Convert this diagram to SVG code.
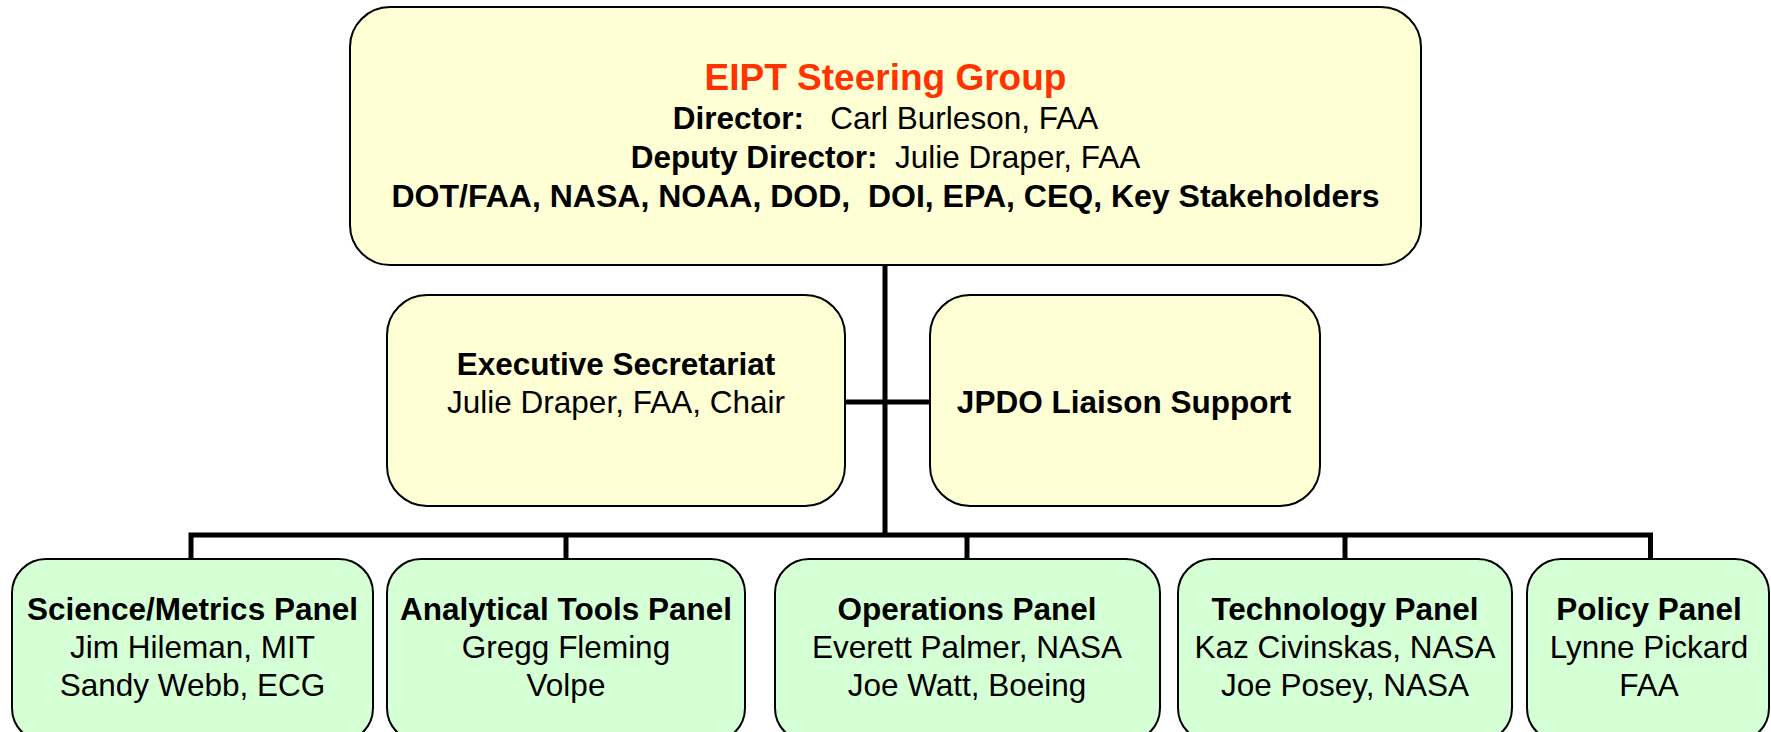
<svg xmlns="http://www.w3.org/2000/svg" width="1771" height="732" viewBox="0 0 1771 732">
<style>
.yl{fill:#FFFFD5;stroke:#000;stroke-width:2}
.gr{fill:#D5FFD5;stroke:#000;stroke-width:2}
.ln{fill:none;stroke:#000;stroke-width:5;stroke-linejoin:miter;stroke-linecap:butt}
text{font-family:"Liberation Sans",Arial,sans-serif;font-size:31.5px;fill:#000;text-anchor:middle}
.b{font-weight:bold}
.t{font-weight:bold;font-size:37px;fill:#FF3300}
</style>
<rect width="1771" height="732" fill="#fff"/>
<g id="connectors">
<path class="ln" d="M885,265 V536"/>
<path class="ln" d="M845,402 H930"/>
<path class="ln" d="M191,559 V535 H1650.5 V559"/>
<path class="ln" d="M566,535 V559"/>
<path class="ln" d="M967,535 V559"/>
<path class="ln" d="M1345,535 V559"/>
</g>
<g id="steering">
<rect class="yl" x="350" y="7" width="1071" height="258" rx="40" ry="40"/>
<text class="t" x="885.5" y="90">EIPT Steering Group</text>
<text x="885.5" y="129" xml:space="preserve"><tspan class="b">Director:</tspan>   Carl Burleson, FAA</text>
<text x="885.5" y="168" xml:space="preserve"><tspan class="b">Deputy Director:</tspan>  Julie Draper, FAA</text>
<text class="b" x="885.5" y="207" style="font-size:32px" xml:space="preserve">DOT/FAA, NASA, NOAA, DOD,  DOI, EPA, CEQ, Key Stakeholders</text>
</g>
<g id="secretariat">
<rect class="yl" x="387" y="295" width="458" height="211" rx="40" ry="40"/>
<text class="b" x="616" y="375">Executive Secretariat</text>
<text x="616" y="413">Julie Draper, FAA, Chair</text>
</g>
<g id="jpdo">
<rect class="yl" x="930" y="295" width="390" height="211" rx="40" ry="40"/>
<text class="b" x="1124" y="413">JPDO Liaison Support</text>
</g>
<g id="science">
<rect class="gr" x="12" y="559" width="361" height="183" rx="34" ry="34"/>
<text class="b" x="192.5" y="620">Science/Metrics Panel</text>
<text x="192.5" y="658">Jim Hileman, MIT</text>
<text x="192.5" y="696">Sandy Webb, ECG</text>
</g>
<g id="analytical">
<rect class="gr" x="387" y="559" width="358" height="183" rx="34" ry="34"/>
<text class="b" x="566" y="620">Analytical Tools Panel</text>
<text x="566" y="658">Gregg Fleming</text>
<text x="566" y="696">Volpe</text>
</g>
<g id="operations">
<rect class="gr" x="775" y="559" width="385" height="183" rx="34" ry="34"/>
<text class="b" x="967" y="620">Operations Panel</text>
<text x="967" y="658">Everett Palmer, NASA</text>
<text x="967" y="696">Joe Watt, Boeing</text>
</g>
<g id="technology">
<rect class="gr" x="1178" y="559" width="334" height="183" rx="34" ry="34"/>
<text class="b" x="1345" y="620">Technology Panel</text>
<text x="1345" y="658">Kaz Civinskas, NASA</text>
<text x="1345" y="696">Joe Posey, NASA</text>
</g>
<g id="policy">
<rect class="gr" x="1527" y="559" width="242" height="183" rx="34" ry="34"/>
<text class="b" x="1649" y="620">Policy Panel</text>
<text x="1649" y="658">Lynne Pickard</text>
<text x="1649" y="696">FAA</text>
</g>
</svg>
